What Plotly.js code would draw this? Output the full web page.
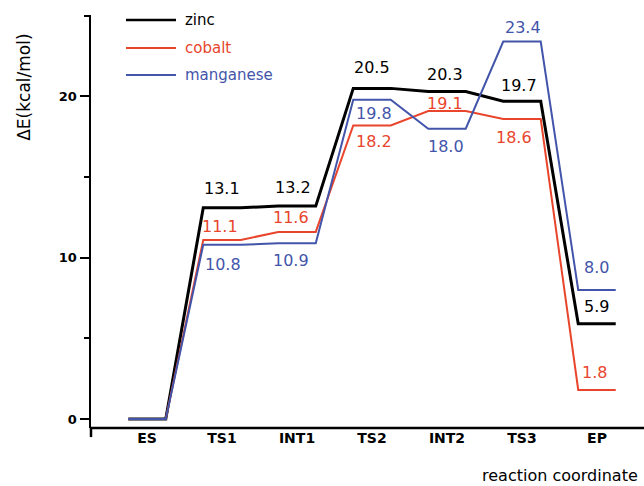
<!DOCTYPE html>
<html>
<head>
<meta charset="utf-8">
<script src="https://cdn.plot.ly/plotly-3.0.1.min.js"></script>
<style>html,body{margin:0;padding:0;background:#fff;}#chart{width:644px;height:486px;}</style>
</head>
<body>
<div id="chart"></div>
<script>
// ---- data ----
const states = ["ES", "TS1", "INT1", "TS2", "INT2", "TS3", "EP"];
const seriesNames = ["zinc", "cobalt", "manganese"];
const zinc      = [0, 13.1, 13.2, 20.5, 20.3, 19.7, 5.9];
const cobalt    = [0, 11.1, 11.6, 18.2, 19.1, 18.6, 1.8];
const manganese = [0, 10.8, 10.9, 19.8, 18.0, 23.4, 8.0];
const yTickVals = [0, 10, 20];

// ---- styling (not data) ----
const colors = ["#000000", "#e8452c", "#4355aa"];
const widths = [3, 2, 2];
const halfW = 0.25;
// label vertical offsets in px (positive = above)
const labelShift = [
  [null, 19, 19, 21, 17, 16, 17],
  [null, 13, 14, -16, 7, -18, 17],
  [null, -20, -17, -14, -18, 14, 22]
];
const labelXShift = [
  [0, 0, -4, 0, -2, -3, 0],
  [0, -2, -6, 2, -2, -8, -2],
  [0, 1, -6, 2, -1, 1, 0]
];
const numFont = "DejaVu Sans, sans-serif";

const allSeries = [zinc, cobalt, manganese];
// zinc first, manganese on top
const order = [0, 1, 2];
const traces = order.map(k => {
  const xs = [], ys = [];
  allSeries[k].forEach((v, i) => { xs.push(i - halfW, i + halfW); ys.push(v, v); });
  return {
    type: "scatter", mode: "lines", x: xs, y: ys, name: seriesNames[k],
    line: {color: colors[k], width: widths[k]}, showlegend: false, hoverinfo: "skip"
  };
});

const annotations = [];
allSeries.forEach((arr, k) => {
  arr.forEach((v, i) => {
    if (labelShift[k][i] === null) return;
    annotations.push({
      x: i, y: v, xref: "x", yref: "y", text: v.toFixed(1), showarrow: false,
      yshift: labelShift[k][i], xshift: labelXShift[k][i],
      font: {family: numFont, size: 16, color: colors[k]}
    });
  });
});

// custom legend
const legY = [0.988, 0.920, 0.855];
const shapes = [];
seriesNames.forEach((n, k) => {
  shapes.push({type: "line", xref: "paper", yref: "paper", x0: 0.0633, x1: 0.1537,
    y0: legY[k], y1: legY[k], line: {color: colors[k], width: k === 0 ? 2.5 : 2}});
  annotations.push({xref: "paper", yref: "paper", x: 0.1664, y: legY[k], xanchor: "left",
    yanchor: "middle", text: n, showarrow: false,
    font: {family: numFont, size: 15, color: colors[k]}});
});
// x-axis baseline and y-axis extension below it
shapes.push({type: "line", xref: "paper", yref: "paper", x0: 0, x1: 1, y0: 0, y1: 0,
  line: {color: "#000", width: 2.5}});
shapes.push({type: "line", xref: "paper", yref: "paper", x0: 0, x1: 0, y0: 0, y1: -0.022,
  line: {color: "#000", width: 2.5}});

annotations.push({xref: "paper", yref: "paper", x: -0.121, y: 0.824, textangle: -90,
  text: "ΔE(kcal/mol)", showarrow: false, xanchor: "center", yanchor: "middle",
  font: {family: numFont, size: 17, color: "#000"}});
annotations.push({xref: "paper", yref: "paper", x: 0.703, y: -0.116, xanchor: "left",
  yanchor: "middle", text: "reaction coordinate", showarrow: false,
  font: {family: numFont, size: 16, color: "#000"}});

const layout = {
  width: 644, height: 486,
  margin: {l: 91, r: 0, t: 15, b: 58},
  paper_bgcolor: "#ffffff", plot_bgcolor: "#ffffff",
  showlegend: false,
  xaxis: {
    range: [-0.747, 6.627], tickvals: states.map((s, i) => i), ticktext: states,
    ticks: "", showline: false, showgrid: false, zeroline: false,
    tickfont: {family: numFont, size: 14, color: "#000", weight: "bold"}
  },
  yaxis: {
    range: [-0.56, 25.05], tickvals: yTickVals, ticks: "outside", ticklen: 9, tickwidth: 2,
    tickcolor: "#000", showline: true, linecolor: "#000", linewidth: 2.5,
    showgrid: false, zeroline: false,
    minor: {tickvals: [5, 15, 25], ticks: "outside", ticklen: 5, tickwidth: 2, tickcolor: "#000", showgrid: false},
    tickfont: {family: numFont, size: 13, color: "#000", weight: "bold"}
  },
  shapes: shapes,
  annotations: annotations
};

Plotly.newPlot("chart", traces, layout, {displayModeBar: false, staticPlot: true});
</script>
</body>
</html>
